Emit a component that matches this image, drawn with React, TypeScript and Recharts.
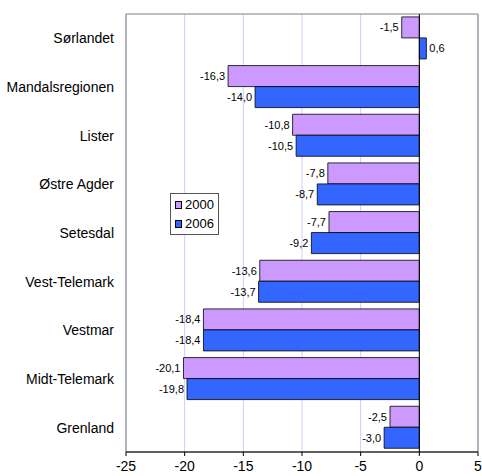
import {
  BarChart,
  Bar,
  XAxis,
  YAxis,
  CartesianGrid,
  LabelList,
  ReferenceLine,
  ReferenceArea,
} from "recharts";

const regions = [
  "Sørlandet",
  "Mandalsregionen",
  "Lister",
  "Østre Agder",
  "Setesdal",
  "Vest-Telemark",
  "Vestmar",
  "Midt-Telemark",
  "Grenland",
];
const values2000 = [-1.5, -16.3, -10.8, -7.8, -7.7, -13.6, -18.4, -20.1, -2.5];
const values2006 = [0.6, -14.0, -10.5, -8.7, -9.2, -13.7, -18.4, -19.8, -3.0];
const xTicks = [-25, -20, -15, -10, -5, 0, 5];

const COLORS = { y2000: "#CC99FF", y2006: "#3366FF" };
const FONT = "Arial, 'Liberation Sans', sans-serif";

const data = regions.map((name, i) => ({
  name,
  y2000: values2000[i],
  y2006: values2006[i],
}));

const fmt = (v: number) => v.toFixed(1).replace(".", ",");

function ValueLabel(props: any) {
  const { x, y, width, height, value } = props;
  const left = Math.min(x, x + width);
  const right = Math.max(x, x + width);
  const neg = value < 0;
  return (
    <text
      x={neg ? left - 3 : right + 3}
      y={y + height / 2}
      textAnchor={neg ? "end" : "start"}
      dominantBaseline="central"
      fontSize={11}
      fontFamily={FONT}
      fill="#000"
    >
      {fmt(value)}
    </text>
  );
}

function LegendBox() {
  const items = [
    { label: "2000", color: COLORS.y2000 },
    { label: "2006", color: COLORS.y2006 },
  ];
  return (
    <div
      style={{
        position: "absolute",
        left: 170,
        top: 193,
        border: "1px solid #555",
        background: "#fff",
        padding: "1px 4px",
        fontFamily: FONT,
        fontSize: 13,
        width: 39,
      }}
    >
      {items.map((it) => (
        <div key={it.label} style={{ display: "flex", alignItems: "center", height: 19 }}>
          <span
            style={{
              display: "inline-block",
              width: 6,
              height: 6,
              background: it.color,
              border: "1px solid #000",
              marginRight: 3,
            }}
          />
          {it.label}
        </div>
      ))}
    </div>
  );
}

export default function App() {
  return (
    <div style={{ position: "absolute", left: 0, top: 0, background: "#fff" }}>
      <BarChart
        width={482}
        height={476}
        data={data}
        layout="vertical"
        margin={{ top: 14, right: 4, bottom: 0, left: 0 }}
        barCategoryGap="6%"
        barGap={0}
      >
        <CartesianGrid horizontal={false} vertical stroke="#CCCCFF" />
        <ReferenceArea x1={-25} x2={5} fill="none" stroke="#808080" strokeWidth={1} ifOverflow="visible" />
        <XAxis
          type="number"
          domain={[-25, 5]}
          ticks={xTicks}
          interval={0}
          height={24}
          axisLine={{ stroke: "#000" }}
          tickLine={{ stroke: "#000" }}
          tickSize={4}
          tickMargin={5}
          tick={{ fontSize: 14, fontFamily: FONT, fill: "#000" }}
        />
        <YAxis
          type="category"
          dataKey="name"
          width={126}
          axisLine={false}
          tickLine={false}
          tickMargin={6}
          tick={{ fontSize: 14, fontFamily: FONT, fill: "#000" }}
        />
        <ReferenceLine x={0} stroke="#000" strokeWidth={1} />
        <Bar dataKey="y2000" name="2000" fill={COLORS.y2000} stroke="#000" strokeWidth={0.8} isAnimationActive={false}>
          <LabelList dataKey="y2000" content={<ValueLabel />} />
        </Bar>
        <Bar dataKey="y2006" name="2006" fill={COLORS.y2006} stroke="#000" strokeWidth={0.8} isAnimationActive={false}>
          <LabelList dataKey="y2006" content={<ValueLabel />} />
        </Bar>
      </BarChart>
      <LegendBox />
    </div>
  );
}
